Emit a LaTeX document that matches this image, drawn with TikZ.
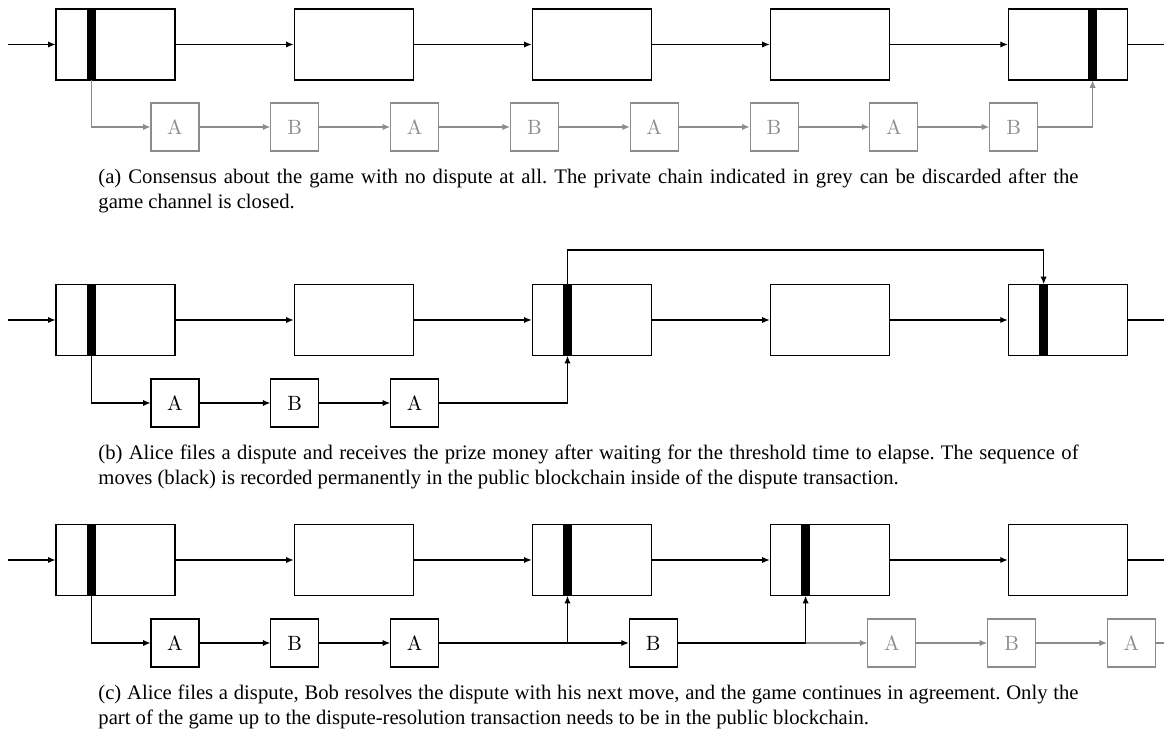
\documentclass[tikz,border=0pt]{standalone}
\usepackage{fontspec}
\usetikzlibrary{arrows.meta,positioning}
\newfontfamily\capfont{Liberation Serif}
\definecolor{ChainGrey}{HTML}{8C8C8C}

\begin{document}
\begin{tikzpicture}[
  x=0.017cm,y=-0.017cm,
  blk/.style={rectangle,draw,line width=0.5pt,minimum width=2.023cm,minimum height=1.207cm,inner sep=0pt},
  bar/.style={rectangle,fill=black,minimum width=0.153cm,minimum height=1.207cm,inner sep=0pt},
  move/.style={rectangle,draw,line width=0.5pt,minimum size=0.816cm,inner sep=0pt},
  ghost/.style={move,draw=ChainGrey,text=ChainGrey},
  arrow/.style={-{Latex[length=3.6pt,width=3pt]},line width=0.5pt},
  garrow/.style={arrow,draw=ChainGrey},
  caption/.style={font=\capfont\frenchspacing,anchor=north west,text width=16.66cm,align=justify,inner sep=0pt}
]
\useasboundingbox (0,0) rectangle (1164,732);

% (a) no dispute
\node[blk] (a1) at (115.5,44.5) {};
\node[blk,right=2.006cm of a1] (a2) {};
\node[blk,right=2.006cm of a2] (a3) {};
\node[blk,right=2.006cm of a3] (a4) {};
\node[blk,right=2.006cm of a4] (a5) {};
\node[bar,right=0.527cm of a1.west] (a1b) {};
\node[bar,right=1.36cm of a5.west] (a5b) {};
\node[ghost] (am1) at (175,127) {A};
\node[ghost,right=1.203cm of am1] (am2) {B};
\node[ghost,right=1.203cm of am2] (am3) {A};
\node[ghost,right=1.203cm of am3] (am4) {B};
\node[ghost,right=1.203cm of am4] (am5) {A};
\node[ghost,right=1.203cm of am5] (am6) {B};
\node[ghost,right=1.203cm of am6] (am7) {A};
\node[ghost,right=1.203cm of am7] (am8) {B};
\coordinate (a0) at (8,44.5);
\coordinate (aend) at (1164,44.5);
\draw[arrow] (a0) -- (a1.west);
\draw[arrow] (a1.east) -- (a2.west);
\draw[arrow] (a2.east) -- (a3.west);
\draw[arrow] (a3.east) -- (a4.west);
\draw[arrow] (a4.east) -- (a5.west);
\draw[line width=0.5pt] (a5.east) -- (aend);
\draw[garrow] (a1b.south) |- (am1.west);
\draw[garrow] (am1.east) -- (am2.west);
\draw[garrow] (am2.east) -- (am3.west);
\draw[garrow] (am3.east) -- (am4.west);
\draw[garrow] (am4.east) -- (am5.west);
\draw[garrow] (am5.east) -- (am6.west);
\draw[garrow] (am6.east) -- (am7.west);
\draw[garrow] (am7.east) -- (am8.west);
\draw[garrow] (am8.east) -| (a5b.south);
\node[caption] (capa) at (98,169) {(a) Consensus about the game with no dispute at all. The private chain indicated in grey can be discarded after the\linebreak game channel is closed.};

% (b) dispute, threshold elapses
\node[blk] (b1) at (115.5,320) {};
\node[blk,right=2.006cm of b1] (b2) {};
\node[blk,right=2.006cm of b2] (b3) {};
\node[blk,right=2.006cm of b3] (b4) {};
\node[blk,right=2.006cm of b4] (b5) {};
\node[bar,right=0.527cm of b1.west] (b1b) {};
\node[bar,right=0.527cm of b3.west] (b3b) {};
\node[bar,right=0.527cm of b5.west] (b5b) {};
\node[move] (bm1) at (175,403) {A};
\node[move,right=1.203cm of bm1] (bm2) {B};
\node[move,right=1.203cm of bm2] (bm3) {A};
\coordinate (b0) at (8,320);
\coordinate (bend) at (1164,320);
\coordinate (btop) at (0,250);
\draw[arrow] (b0) -- (b1.west);
\draw[arrow] (b1.east) -- (b2.west);
\draw[arrow] (b2.east) -- (b3.west);
\draw[arrow] (b3.east) -- (b4.west);
\draw[arrow] (b4.east) -- (b5.west);
\draw[line width=0.5pt] (b5.east) -- (bend);
\draw[arrow] (b1b.south) |- (bm1.west);
\draw[arrow] (bm1.east) -- (bm2.west);
\draw[arrow] (bm2.east) -- (bm3.west);
\draw[arrow] (bm3.east) -| (b3b.south);
\draw[arrow] (b3b.north) |- (b5b.north |- btop) -- (b5b.north);
\node[caption] (capb) at (98,445) {(b) Alice files a dispute and receives the prize money after waiting for the threshold time to elapse. The sequence of\linebreak moves (black) is recorded permanently in the public blockchain inside of the dispute transaction.};

% (c) dispute resolved by Bob
\node[blk] (c1) at (115.5,560) {};
\node[blk,right=2.006cm of c1] (c2) {};
\node[blk,right=2.006cm of c2] (c3) {};
\node[blk,right=2.006cm of c3] (c4) {};
\node[blk,right=2.006cm of c4] (c5) {};
\node[bar,right=0.527cm of c1.west] (c1b) {};
\node[bar,right=0.527cm of c3.west] (c3b) {};
\node[bar,right=0.527cm of c4.west] (c4b) {};
\node[move] (cm1) at (175,643) {A};
\node[move,right=1.203cm of cm1] (cm2) {B};
\node[move,right=1.203cm of cm2] (cm3) {A};
\node[move,right=3.222cm of cm3] (cm4) {B};
\node[ghost,right=3.222cm of cm4] (cm5) {A};
\node[ghost,right=1.203cm of cm5] (cm6) {B};
\node[ghost,right=1.203cm of cm6] (cm7) {A};
\coordinate (c0) at (8,560);
\coordinate (cend) at (1164,560);
\coordinate (cmend) at (1164,643);
\draw[arrow] (c0) -- (c1.west);
\draw[arrow] (c1.east) -- (c2.west);
\draw[arrow] (c2.east) -- (c3.west);
\draw[arrow] (c3.east) -- (c4.west);
\draw[arrow] (c4.east) -- (c5.west);
\draw[line width=0.5pt] (c5.east) -- (cend);
\draw[arrow] (c1b.south) |- (cm1.west);
\draw[arrow] (cm1.east) -- (cm2.west);
\draw[arrow] (cm2.east) -- (cm3.west);
\draw[arrow] (cm3.east) -| (c3b.south);
\draw[arrow] (c3b.south |- cm3.east) -- (cm4.west);
\draw[arrow] (cm4.east) -| (c4b.south);
\draw[garrow] (c4b.south |- cm4.east) -- (cm5.west);
\draw[garrow] (cm5.east) -- (cm6.west);
\draw[garrow] (cm6.east) -- (cm7.west);
\draw[ChainGrey,line width=0.5pt] (cm7.east) -- (cmend);
\node[caption] (capc) at (98,685) {(c) Alice files a dispute, Bob resolves the dispute with his next move, and the game continues in agreement. Only the\linebreak part of the game up to the dispute-resolution transaction needs to be in the public blockchain.};
\end{tikzpicture}
\end{document}
